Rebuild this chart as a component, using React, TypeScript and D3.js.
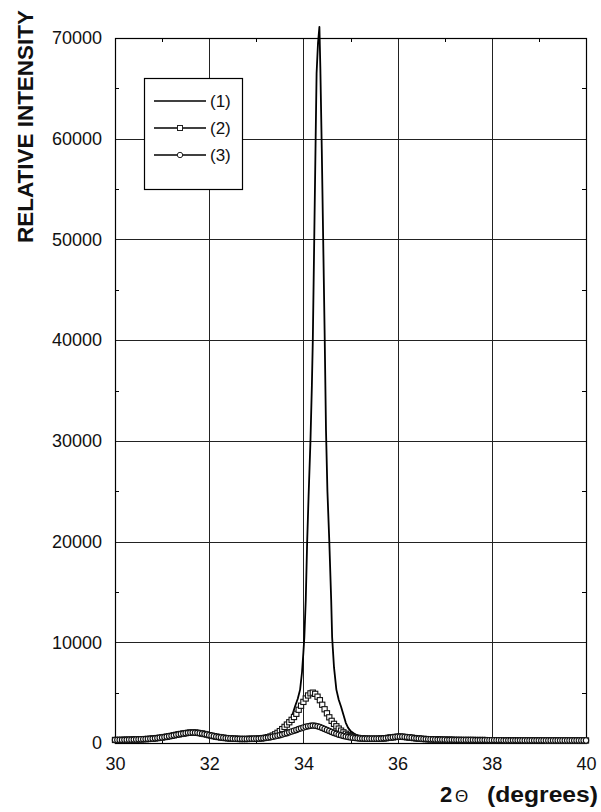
import React, { useEffect, useRef } from 'react';
import * as d3 from 'd3';

// curve (1): solid line, sampled unevenly (fine around the peak)
const theta1 = [30.0, 30.5, 31.0, 31.3, 31.65, 32.0, 32.3, 32.7, 33.0, 33.2, 33.4, 33.55, 33.65, 33.7, 33.76,
    33.82, 33.88, 33.93, 33.97, 34.0, 34.02, 34.05, 34.08, 34.11, 34.15, 34.18, 34.2, 34.23, 34.26, 34.28,
    34.31, 34.34, 34.36, 34.39, 34.42, 34.45, 34.48, 34.51, 34.55, 34.59, 34.61, 34.65, 34.7, 34.75, 34.8,
    34.85, 34.9, 34.95, 35.0, 35.1, 35.2, 35.4, 35.7, 36.0, 36.3, 36.7, 37.0, 38.0, 39.0, 40.0];
const intensity1 = [300, 330, 520, 750, 950, 750, 520, 410, 450, 600, 800, 1100, 1600, 2000, 2700,
    3600, 4400, 5300, 7000, 9000, 10500, 14200, 20000, 24500, 30000, 35500, 40000, 50000, 60000, 66500,
    69500, 71100, 67000, 59000, 50000, 41000, 31000, 25000, 20000, 14200, 10500, 7500, 5300, 4300, 3600,
    2800, 2000, 1500, 1200, 850, 650, 480, 450, 600, 450, 350, 320, 280, 260, 250];

// curves (2) and (3): one point every 0.05 degree, 30.00 .. 40.00
const theta23 = d3.range(201).map(i => 30 + i * 0.05);
const intensity2 = [
    300, 300, 310, 310, 320, 320, 330, 330, 340, 350, 360, 370, 380, 390, 400, 420, 440, 460, 490, 520,
    550, 590, 630, 670, 710, 760, 810, 860, 900, 940, 980, 1010, 1030, 1040, 1030, 1010, 980, 940, 890, 840,
    780, 730, 680, 630, 590, 550, 520, 490, 470, 450, 430, 420, 410, 400, 400, 400, 400, 410, 410, 420,
    420, 440, 460, 490, 530, 580, 650, 740, 860, 1010, 1180, 1380, 1600, 1830, 2060, 2300, 2580, 2900, 3300, 3700,
    4080, 4420, 4720, 4930, 5000, 4880, 4600, 4250, 3800, 3350, 2950, 2550, 2200, 1900, 1660, 1430, 1230, 1060, 920, 800,
    700, 620, 560, 510, 480, 460, 440, 430, 420, 420, 420, 420, 430, 440, 460, 480, 510, 540, 570, 600,
    620, 630, 620, 600, 580, 550, 520, 490, 460, 440, 420, 400, 390, 380, 370, 360, 350, 340, 340, 330,
    330, 320, 320, 320, 310, 310, 310, 300, 300, 300, 300, 300, 300, 290, 290, 290, 290, 290, 280, 280,
    280, 280, 280, 280, 280, 270, 270, 270, 270, 270, 270, 270, 270, 260, 260, 260, 260, 260, 260, 260,
    260, 260, 260, 250, 250, 250, 250, 250, 250, 250, 250, 250, 250, 250, 250, 250, 250, 250, 250, 250, 250];
const intensity3 = [
    300, 300, 310, 310, 320, 320, 330, 330, 340, 350, 360, 370, 380, 390, 400, 420, 440, 460, 490, 520,
    550, 590, 630, 670, 710, 760, 810, 860, 900, 940, 980, 1010, 1030, 1040, 1030, 1010, 980, 940, 890, 840,
    780, 730, 680, 630, 590, 550, 520, 490, 470, 450, 430, 420, 410, 400, 400, 400, 400, 410, 410, 420,
    430, 440, 460, 480, 510, 540, 580, 620, 670, 720, 780, 840, 910, 980, 1060, 1140, 1220, 1300, 1380, 1460,
    1540, 1610, 1670, 1710, 1730, 1710, 1660, 1590, 1500, 1400, 1300, 1200, 1100, 1000, 910, 830, 760, 700, 640, 590,
    550, 520, 490, 470, 450, 440, 430, 420, 420, 420, 420, 420, 430, 440, 460, 480, 510, 540, 570, 600,
    620, 630, 620, 600, 580, 550, 520, 490, 460, 440, 420, 400, 390, 380, 370, 360, 350, 340, 340, 330,
    330, 320, 320, 320, 310, 310, 310, 300, 300, 300, 300, 300, 300, 290, 290, 290, 290, 290, 280, 280,
    280, 280, 280, 280, 280, 270, 270, 270, 270, 270, 270, 270, 270, 260, 260, 260, 260, 260, 260, 260,
    260, 260, 260, 250, 250, 250, 250, 250, 250, 250, 250, 250, 250, 250, 250, 250, 250, 250, 250, 250, 250];

const xTicks = [30, 32, 34, 36, 38, 40];
const xMinor = [31, 33, 35, 37, 39];
const yTicks = [0, 10000, 20000, 30000, 40000, 50000, 60000, 70000];
const yMinor = [5000, 15000, 25000, 35000, 45000, 55000, 65000];
const legendLabels = ['(1)', '(2)', '(3)'];

const FONT = '"Liberation Sans", Arial, Helvetica, sans-serif';

export default function App() {
    const ref = useRef<SVGSVGElement>(null);

    useEffect(() => {
        document.body.style.margin = '0';
        const svg = d3.select(ref.current);
        svg.selectAll('*').remove();

        const x = d3.scaleLinear().domain([30, 40]).range([115, 586]);
        const y = d3.scaleLinear().domain([0, 70000]).range([743, 38]);

        // grid
        const grid = svg.append('g').attr('stroke', '#222').attr('stroke-width', 1);
        grid.selectAll('.vg').data(xTicks.slice(1, -1)).enter().append('line')
            .attr('x1', d => Math.round(x(d)) + 0.5).attr('x2', d => Math.round(x(d)) + 0.5)
            .attr('y1', y(0)).attr('y2', y(70000));
        grid.selectAll('.hg').data(yTicks.slice(1, -1)).enter().append('line')
            .attr('y1', d => Math.round(y(d)) + 0.5).attr('y2', d => Math.round(y(d)) + 0.5)
            .attr('x1', x(30)).attr('x2', x(40));

        // minor ticks, inside, on all four sides
        const ticks = svg.append('g').attr('stroke', '#000').attr('stroke-width', 1);
        xMinor.forEach(v => {
            const px = Math.round(x(v)) + 0.5;
            ticks.append('line').attr('x1', px).attr('x2', px).attr('y1', y(0)).attr('y2', y(0) - 4);
            ticks.append('line').attr('x1', px).attr('x2', px).attr('y1', y(70000)).attr('y2', y(70000) + 4);
        });
        yMinor.forEach(v => {
            const py = Math.round(y(v)) + 0.5;
            ticks.append('line').attr('y1', py).attr('y2', py).attr('x1', x(30)).attr('x2', x(30) + 4);
            ticks.append('line').attr('y1', py).attr('y2', py).attr('x1', x(40)).attr('x2', x(40) - 4);
        });

        // frame
        svg.append('rect')
            .attr('x', x(30) + 0.5).attr('y', y(70000) + 0.5)
            .attr('width', x(40) - x(30)).attr('height', y(0) - y(70000))
            .attr('fill', 'none').attr('stroke', '#000').attr('stroke-width', 1.2);

        // axes labels
        const xAxis = svg.append('g')
            .attr('transform', 'translate(0,' + y(0) + ')')
            .call(d3.axisBottom(x).tickValues(xTicks).tickSize(0).tickPadding(14).tickFormat(d3.format('d')));
        xAxis.select('.domain').remove();
        xAxis.selectAll('text').attr('font-family', FONT).attr('font-size', 18).attr('fill', '#111');

        const yAxis = svg.append('g')
            .attr('transform', 'translate(' + x(30) + ',0)')
            .call(d3.axisLeft(y).tickValues(yTicks).tickSize(0).tickPadding(13).tickFormat(d3.format('d')));
        yAxis.select('.domain').remove();
        yAxis.selectAll('text').attr('font-family', FONT).attr('font-size', 18).attr('fill', '#111');

        // curve (1)
        const line1 = d3.line<number>()
            .x((d, i) => x(theta1[i]))
            .y(d => y(d));
        svg.append('path')
            .attr('d', line1(intensity1))
            .attr('fill', 'none').attr('stroke', '#000').attr('stroke-width', 1.8)
            .attr('stroke-linejoin', 'round');

        const line23 = d3.line<number>()
            .x((d, i) => x(theta23[i]))
            .y(d => y(d));

        // curve (2) squares
        svg.append('path').attr('d', line23(intensity2))
            .attr('fill', 'none').attr('stroke', '#111').attr('stroke-width', 1);
        svg.append('g').selectAll('rect').data(intensity2).enter().append('rect')
            .attr('x', (d, i) => x(theta23[i]) - 2.6).attr('y', d => y(d) - 2.6)
            .attr('width', 5.2).attr('height', 5.2)
            .attr('fill', '#fff').attr('stroke', '#111').attr('stroke-width', 1.1);

        // curve (3) circles
        svg.append('path').attr('d', line23(intensity3))
            .attr('fill', 'none').attr('stroke', '#111').attr('stroke-width', 1);
        svg.append('g').selectAll('circle').data(intensity3).enter().append('circle')
            .attr('cx', (d, i) => x(theta23[i])).attr('cy', d => y(d))
            .attr('r', 2.7)
            .attr('fill', '#fff').attr('stroke', '#111').attr('stroke-width', 1.1);

        // legend
        const lg = svg.append('g');
        lg.append('rect').attr('x', 144.5).attr('y', 78.5).attr('width', 98).attr('height', 111)
            .attr('fill', '#fff').attr('stroke', '#000').attr('stroke-width', 1.2);
        legendLabels.forEach((label, i) => {
            const ly = 101 + i * 27;
            lg.append('line').attr('x1', 154).attr('x2', 206).attr('y1', ly).attr('y2', ly)
                .attr('stroke', '#000').attr('stroke-width', i === 0 ? 1.7 : 1.3);
            if (i === 1) {
                lg.append('rect').attr('x', 177.5).attr('y', ly - 2.5).attr('width', 5).attr('height', 5)
                    .attr('fill', '#fff').attr('stroke', '#222').attr('stroke-width', 1);
            }
            if (i === 2) {
                lg.append('circle').attr('cx', 180).attr('cy', ly).attr('r', 2.7)
                    .attr('fill', '#fff').attr('stroke', '#222').attr('stroke-width', 1);
            }
            lg.append('text').attr('x', 210).attr('y', ly).attr('dy', '0.36em')
                .attr('font-family', FONT).attr('font-size', 17).attr('fill', '#111').text(label);
        });

        // axis titles
        svg.append('text')
            .attr('transform', 'translate(33,126.5) rotate(-90)')
            .attr('text-anchor', 'middle')
            .attr('font-family', FONT).attr('font-weight', 'bold').attr('font-size', 22.5)
            .attr('textLength', 233).attr('lengthAdjust', 'spacingAndGlyphs')
            .attr('fill', '#111')
            .text('RELATIVE INTENSITY');

        const xt = svg.append('text').attr('y', 802)
            .attr('font-family', FONT).attr('font-weight', 'bold').attr('font-size', 22).attr('fill', '#111');
        xt.append('tspan').attr('x', 440).text('2');
        xt.append('tspan').attr('x', 455).attr('font-weight', 'normal').attr('font-size', 17).text('Θ');
        xt.append('tspan').attr('x', 487).attr('textLength', 111).attr('lengthAdjust', 'spacingAndGlyphs')
            .text('(degrees)');
    }, []);

    return (
        <svg ref={ref} width={601} height={812} style={{ display: 'block', background: '#fff' }} />
    );
}
